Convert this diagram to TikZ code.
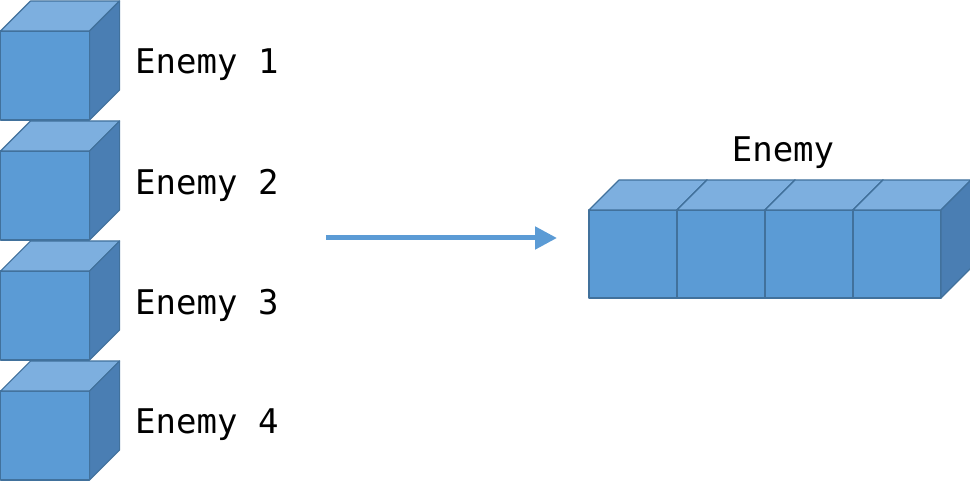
\documentclass[tikz,border=0pt]{standalone}
\usepackage{fontspec}
\setmonofont{DejaVu Sans Mono}
\usetikzlibrary{positioning,arrows.meta}
\definecolor{cubefront}{HTML}{5B9BD5}
\definecolor{cubetop}{HTML}{7DAFDF}
\definecolor{cubeside}{HTML}{4A7EB3}
\definecolor{cubeedge}{HTML}{41719C}
\tikzset{
  face/.style={draw=cubeedge, line width=1.2pt, line join=round},
  label/.style={font=\ttfamily\fontsize{34}{38}\selectfont, inner sep=0pt, anchor=west},
}
% cube with front face lower-left corner at (#1,#2), size #3
\newcommand{\cube}[3]{%
  \fill[cubefront,face] (#1,#2) rectangle ++(#3,#3);
  \fill[cubetop,face] (#1,#2+#3) -- ++(30,30) -- ++(#3,0) -- ++(-30,-30) -- cycle;
  \fill[cubeside,face] (#1+#3,#2) -- ++(30,30) -- ++(0,#3) -- ++(-30,-30) -- cycle;
}
\begin{document}
\begin{tikzpicture}[x=1pt,y=1pt]
    \useasboundingbox (0,0) rectangle (970,480);

    % Left stack
    \foreach \i in {1,...,4} {
      \cube{0.6}{480-120*\i}{89}
      \node[label] (enemy\i) at (135,480-120*\i+55) {Enemy \i};
    }

    % Arrow
    \coordinate (arrowstart) at (326,242);
    \coordinate (arrowend) at (557,242);
    \draw[cubefront, line width=5pt, -{Triangle[length=22pt,width=22pt]}] (arrowstart) -- (arrowend);

    % Right row
    \foreach \j in {0,1,2,3} {
      \cube{589+88*\j}{182}{88}
    }
    \node[label, anchor=center] (enemy) at (783,327) {Enemy};
\end{tikzpicture}
\end{document}
